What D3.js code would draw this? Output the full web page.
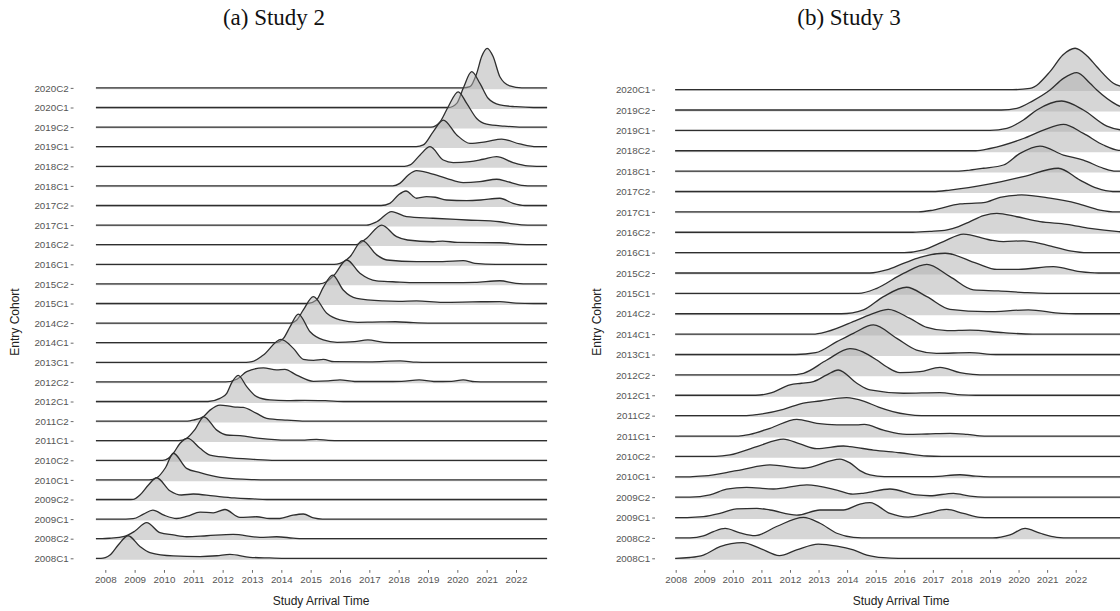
<!DOCTYPE html>
<html>
<head>
<meta charset="utf-8">
<script src="https://cdn.jsdelivr.net/npm/d3@7/dist/d3.min.js"></script>
<style>
body{margin:0;background:#fff;}
svg{display:block;}
</style>
</head>
<body>
<div id="chart"></div>
<script>
// tick labels of the arrival-time axis
var yearTicks = [2008, 2009, 2010, 2011, 2012, 2013, 2014, 2015, 2016, 2017, 2018, 2019, 2020, 2021, 2022];

// Study 2 : cohorts from bottom to top
var study2Cohorts = ["2008C1","2008C2","2009C1","2009C2","2010C1","2010C2","2011C1","2011C2",
	"2012C1","2012C2","2013C1","2014C1","2014C2","2015C1","2015C2","2016C1","2016C2",
	"2017C1","2017C2","2018C1","2018C2","2019C1","2019C2","2020C1","2020C2"];
// ridge outlines: [year, scaled density] (1 = one row)
var study2Ridges = [
	[[2007.85,0],[2008.0,0.04],[2008.16,0.17],[2008.44,0.68],[2008.78,1.15],[2009.18,0.6],[2009.52,0.29],[2010.32,0.12],[2011.23,0.09],[2011.8,0.13],[2012.25,0.2],[2012.93,0.05],[2013.6,0.02],[2014.2,0]],
	[[2007.9,0],[2008.2,0.03],[2008.61,0.1],[2009.0,0.38],[2009.41,0.82],[2009.86,0.31],[2010.32,0.19],[2010.77,0.1],[2011.46,0.15],[2012.36,0.22],[2013.27,0.07],[2013.84,0.1],[2014.4,0.03],[2014.7,0]],
	[[2008.7,0],[2008.95,0.02],[2009.3,0.25],[2009.62,0.46],[2010.0,0.2],[2010.43,0.03],[2010.8,0.15],[2011.23,0.36],[2011.68,0.32],[2012.08,0.49],[2012.59,0.09],[2013.16,0.12],[2013.6,0.03],[2013.95,0.03],[2014.4,0.2],[2014.75,0.26],[2015.1,0.06],[2015.4,0]],
	[[2008.8,0],[2008.95,0.01],[2009.18,0.23],[2009.47,0.74],[2009.75,1.11],[2010.2,0.45],[2010.6,0.23],[2011.0,0.28],[2011.68,0.18],[2012.4,0.08],[2013.04,0.03],[2013.5,0]],
	[[2009.5,0],[2009.75,0.1],[2010.05,0.62],[2010.32,1.36],[2010.77,0.59],[2011.23,0.37],[2011.91,0.13],[2012.82,0.03],[2013.5,0]],
	[[2009.95,0],[2010.15,0.1],[2010.32,0.36],[2010.55,0.87],[2010.81,1.12],[2011.23,0.61],[2011.57,0.27],[2012.14,0.15],[2013.04,0.05],[2013.8,0]],
	[[2010.5,0],[2010.77,0.12],[2011.06,0.58],[2011.36,1.22],[2011.8,0.54],[2012.14,0.29],[2012.59,0.26],[2013.27,0.12],[2014.18,0.03],[2014.8,0.03],[2015.2,0.07],[2015.6,0.02],[2016.0,0]],
	[[2010.8,0],[2011.0,0.05],[2011.36,0.25],[2011.57,0.56],[2011.91,0.82],[2012.36,0.73],[2012.7,0.7],[2013.16,0.39],[2013.5,0.14],[2014.2,0.05],[2014.8,0]],
	[[2011.5,0],[2011.91,0.16],[2012.14,0.42],[2012.31,0.96],[2012.53,1.33],[2012.82,0.76],[2013.16,0.25],[2013.61,0.08],[2014.2,0.04],[2014.8,0.06],[2015.5,0.04],[2016.2,0]],
	[[2012.1,0],[2012.5,0.15],[2012.82,0.52],[2013.39,0.72],[2013.84,0.61],[2014.12,0.64],[2014.52,0.35],[2015.09,0.03],[2015.6,0.05],[2016.0,0.1],[2016.5,0.02],[2017.5,0.02],[2018.1,0.03],[2018.7,0.1],[2019.2,0.02],[2019.8,0.03],[2020.2,0.1],[2020.6,0.01],[2021.0,0]],
	[[2012.8,0],[2013.0,0.03],[2013.39,0.37],[2013.99,1.17],[2014.41,0.71],[2014.75,0.15],[2015.1,0.1],[2015.43,0.15],[2015.8,0.03],[2017.0,0.02],[2018.05,0.07],[2018.6,0.01],[2019.0,0]],
	[[2013.8,0],[2014.07,0.22],[2014.3,0.82],[2014.58,1.46],[2014.98,0.56],[2015.43,0.14],[2015.9,0.02],[2016.5,0.06],[2016.95,0.14],[2017.5,0.02],[2018.0,0]],
	[[2014.3,0],[2014.52,0.15],[2014.75,0.67],[2015.09,1.35],[2015.55,0.5],[2016.0,0.16],[2016.6,0.04],[2017.1,0.05],[2017.9,0.07],[2018.5,0.02],[2019.0,0]],
	[[2014.9,0],[2015.2,0.18],[2015.43,0.82],[2015.75,1.45],[2016.11,0.69],[2016.57,0.26],[2017.48,0.13],[2018.0,0.11],[2018.61,0.13],[2019.5,0.06],[2020.5,0.08],[2021.45,0.1],[2022.0,0.02],[2022.6,0]],
	[[2015.3,0],[2015.55,0.12],[2015.8,0.45],[2016.23,1.22],[2016.68,0.54],[2017.25,0.15],[2017.8,0.11],[2018.6,0.06],[2019.8,0.06],[2020.6,0.08],[2021.45,0.16],[2022.0,0.03],[2022.5,0]],
	[[2015.8,0],[2016.0,0.05],[2016.34,0.39],[2016.76,1.21],[2017.25,0.48],[2017.6,0.22],[2018.61,0.14],[2019.5,0.14],[2020.2,0.19],[2020.6,0.05],[2021.3,0]],
	[[2016.55,0],[2016.9,0.32],[2017.42,1.0],[2017.93,0.41],[2018.3,0.24],[2019.17,0.15],[2019.5,0.18],[2020.0,0.12],[2021.45,0.1],[2022.1,0.02],[2022.6,0]],
	[[2016.9,0],[2017.25,0.17],[2017.76,0.69],[2018.27,0.43],[2019.17,0.35],[2020.32,0.26],[2021.45,0.17],[2021.9,0.06],[2022.4,0]],
	[[2017.4,0],[2017.7,0.11],[2017.99,0.54],[2018.25,0.74],[2018.61,0.37],[2018.95,0.45],[2019.25,0.42],[2019.63,0.28],[2020.32,0.25],[2020.8,0.28],[2021.45,0.37],[2021.9,0.11],[2022.3,0]],
	[[2017.8,0],[2018.04,0.13],[2018.33,0.56],[2018.61,0.78],[2019.07,0.64],[2019.63,0.39],[2020.2,0.17],[2020.77,0.22],[2021.34,0.34],[2021.7,0.22],[2022.2,0.03],[2022.6,0]],
	[[2018.2,0],[2018.39,0.07],[2018.73,0.58],[2019.07,1.0],[2019.52,0.32],[2019.86,0.19],[2020.43,0.24],[2020.88,0.36],[2021.34,0.49],[2021.9,0.19],[2022.4,0.02],[2022.7,0]],
	[[2018.6,0],[2018.84,0.09],[2019.18,0.77],[2019.52,1.36],[2019.98,0.6],[2020.43,0.17],[2021.0,0.26],[2021.51,0.39],[2022.13,0.14],[2022.7,0]],
	[[2019.1,0],[2019.41,0.27],[2019.69,1.04],[2020.03,1.8],[2020.32,1.21],[2020.66,0.44],[2021.0,0.15],[2021.6,0.05],[2022.2,0]],
	[[2019.7,0],[2019.98,0.21],[2020.2,0.98],[2020.49,1.83],[2020.77,1.23],[2021.05,0.47],[2021.45,0.13],[2022.0,0.04],[2022.6,0]],
	[[2020.2,0],[2020.43,0.06],[2020.66,0.74],[2020.83,1.6],[2021.02,2.02],[2021.22,1.6],[2021.45,0.57],[2021.79,0.1],[2022.2,0]]
];

// Study 3 : cohorts from bottom to top
var study3Cohorts = ["2008C1","2008C2","2009C1","2009C2","2010C1","2010C2","2011C1","2011C2",
	"2012C1","2012C2","2013C1","2014C1","2014C2","2015C1","2015C2","2016C1","2016C2",
	"2017C1","2017C2","2018C1","2018C2","2019C1","2019C2","2020C1"];
var study3Ridges = [
	[[2008.0,0],[2008.5,0.04],[2008.97,0.16],[2009.55,0.57],[2010.34,0.77],[2010.95,0.49],[2011.63,0.13],[2012.23,0.41],[2012.99,0.7],[2013.64,0.6],[2014.22,0.41],[2014.69,0.16],[2015.27,0.03],[2015.8,0]],
	[[2008.5,0],[2008.97,0.1],[2009.32,0.31],[2009.73,0.47],[2010.25,0.25],[2010.78,0.11],[2011.53,0.56],[2012.47,1.01],[2013.05,0.72],[2013.64,0.23],[2014.22,0.03],[2014.8,0],[2019.1,0],[2019.7,0.15],[2020.23,0.47],[2020.75,0.23],[2021.34,0.03],[2021.8,0]],
	[[2008.4,0],[2008.97,0.04],[2009.55,0.2],[2010.13,0.43],[2010.84,0.45],[2011.3,0.37],[2012.24,0.12],[2013.05,0.37],[2013.87,0.37],[2014.45,0.66],[2014.8,0.73],[2015.5,0.2],[2016.14,0.02],[2016.79,0.2],[2017.48,0.4],[2018.07,0.2],[2018.65,0.01],[2019.0,0]],
	[[2008.5,0],[2009.2,0.11],[2009.78,0.39],[2010.48,0.48],[2011.42,0.4],[2012.59,0.6],[2013.64,0.35],[2014.2,0.15],[2014.6,0.2],[2015.5,0.4],[2016.43,0.11],[2016.9,0.07],[2017.72,0.19],[2018.3,0.05],[2018.8,0]],
	[[2008.5,0],[2009.0,0.04],[2010.13,0.3],[2011.3,0.58],[2012.47,0.42],[2013.75,0.87],[2014.1,0.68],[2014.45,0.3],[2014.8,0.09],[2015.3,0.01],[2017.0,0.01],[2017.95,0.1],[2018.5,0.03],[2019.0,0]],
	[[2009.4,0],[2009.9,0.07],[2010.84,0.48],[2011.77,0.85],[2012.35,0.61],[2012.94,0.38],[2013.87,0.51],[2014.1,0.48],[2014.92,0.31],[2015.85,0.18],[2016.79,0.02],[2017.3,0]],
	[[2010.2,0],[2010.6,0.08],[2011.3,0.38],[2012.24,0.82],[2012.94,0.62],[2013.64,0.55],[2014.34,0.55],[2014.6,0.57],[2015.27,0.29],[2016.08,0.08],[2016.8,0.1],[2017.6,0.13],[2018.2,0.08],[2018.8,0]],
	[[2010.4,0],[2010.84,0.05],[2011.77,0.31],[2012.47,0.62],[2013.05,0.72],[2013.98,0.88],[2014.6,0.7],[2015.1,0.42],[2015.6,0.2],[2016.1,0.06],[2016.6,0]],
	[[2010.8,0],[2011.3,0.1],[2012.0,0.51],[2012.4,0.59],[2012.82,0.67],[2013.29,1.0],[2013.69,1.24],[2014.34,0.59],[2014.8,0.26],[2015.97,0.1],[2017.25,0.13],[2018.0,0.02],[2018.5,0]],
	[[2012.0,0],[2012.47,0.08],[2013.29,0.73],[2014.1,1.29],[2015.04,0.73],[2015.38,0.4],[2015.85,0.11],[2016.55,0.16],[2017.25,0.37],[2017.95,0.11],[2018.4,0.03],[2018.9,0]],
	[[2012.2,0],[2012.9,0.09],[2013.64,0.63],[2014.22,1.04],[2014.92,1.45],[2015.74,0.79],[2016.43,0.22],[2017.13,0.06],[2018.3,0.09],[2019.2,0]],
	[[2012.8,0],[2013.29,0.12],[2014.34,0.69],[2014.92,1.02],[2015.44,1.22],[2016.2,0.77],[2016.79,0.33],[2017.5,0.17],[2018.3,0.2],[2019.47,0.07],[2020.5,0]],
	[[2013.8,0],[2014.57,0.19],[2015.27,0.84],[2016.08,1.3],[2016.79,0.84],[2017.6,0.22],[2018.88,0.1],[2020.34,0.19],[2021.5,0.02],[2022.0,0]],
	[[2014.4,0],[2015.04,0.25],[2015.97,0.98],[2016.79,1.42],[2017.6,0.82],[2018.42,0.17],[2019.3,0.12],[2020.2,0.04],[2021.0,0]],
	[[2014.8,0],[2015.38,0.15],[2015.97,0.47],[2016.55,0.77],[2017.43,0.97],[2018.54,0.47],[2019.24,0.18],[2020.0,0.18],[2021.22,0.31],[2022.15,0.07],[2022.8,0]],
	[[2016.0,0],[2016.67,0.13],[2017.37,0.54],[2018.07,0.91],[2019.0,0.62],[2019.47,0.54],[2020.17,0.58],[2020.99,0.37],[2021.8,0.09],[2022.4,0]],
	[[2016.3,0],[2016.9,0.04],[2017.5,0.12],[2017.9,0.28],[2018.3,0.52],[2018.77,0.81],[2019.24,0.93],[2019.94,0.76],[2020.75,0.52],[2021.69,0.39],[2022.5,0.19],[2023.5,0.03]],
	[[2016.5,0],[2017.02,0.09],[2017.95,0.39],[2018.77,0.45],[2019.35,0.71],[2020.11,0.83],[2021.1,0.67],[2022.04,0.42],[2022.85,0.09],[2023.4,0]],
	[[2017.0,0],[2017.6,0.07],[2019.0,0.37],[2020.17,0.73],[2021.39,1.14],[2022.15,0.56],[2022.74,0.16],[2023.3,0]],
	[[2017.9,0],[2018.3,0.05],[2018.77,0.14],[2019.47,0.3],[2020.05,0.87],[2020.75,1.23],[2021.57,0.79],[2022.27,0.54],[2022.97,0.14],[2023.4,0]],
	[[2018.5,0],[2019.0,0.11],[2020.17,0.6],[2020.87,1.01],[2021.57,1.29],[2022.27,0.85],[2022.97,0.28],[2023.5,0.02]],
	[[2019.0,0],[2019.59,0.1],[2020.17,0.51],[2020.64,1.0],[2021.51,1.44],[2022.27,1.0],[2023.09,0.21],[2023.6,0.02]],
	[[2019.4,0],[2019.94,0.08],[2020.5,0.45],[2021.1,0.98],[2021.57,1.55],[2022.04,1.83],[2022.5,1.31],[2022.74,0.98],[2023.44,0.25],[2023.75,0.05]],
	[[2019.8,0],[2020.4,0.06],[2021.1,0.88],[2021.55,1.7],[2021.98,2.03],[2022.4,1.65],[2022.74,1.12],[2023.32,0.31],[2023.75,0.05]]
];

var W = 1120, H = 611;
var fontSans = "'Liberation Sans', Arial, Helvetica, sans-serif";

var svg = d3.select("#chart").append("svg")
	.attr("width", W)
	.attr("height", H);

// panel geometry
var panels = [
	{title: "(a) Study 2", titleX: 274, cohorts: study2Cohorts, ridges: study2Ridges,
	 tickPx: [105.3, 516], span: [2007.68, 2023.06], bottom: 558.3, top: 87.9,
	 axisX: 73.5, axisY: 570, yTitleX: 18.5, xTitleX: 321},
	{title: "(b) Study 3", titleX: 849, cohorts: study3Cohorts, ridges: study3Ridges,
	 tickPx: [675.7, 1075.7], span: [2007.98, 2023.8], bottom: 558.3, top: 89.6,
	 axisX: 655, axisY: 570, yTitleX: 600.5, xTitleX: 901}
];

panels.forEach(function(p){ drawPanel(p); });

function drawPanel(p){
	var g = svg.append("g");

	var x = d3.scaleLinear()
		.domain([yearTicks[0], yearTicks[yearTicks.length-1]])
		.range(p.tickPx);
	var y = d3.scalePoint()
		.domain(p.cohorts)
		.range([p.bottom, p.top]);
	var step = y.step();
	var h = d3.scaleLinear().domain([0, 1]).range([0, step]);

	// ridges, top row first so lower rows sit on top
	for(var i=p.cohorts.length-1; i>=0; i--){
		var base = y(p.cohorts[i]);
		var pts = p.ridges[i].slice();
		if(pts[0][0] > p.span[0]) pts.unshift([p.span[0], 0]);
		if(pts[pts.length-1][0] < p.span[1]) pts.push([p.span[1], 0]);

		var area = d3.area()
			.curve(d3.curveMonotoneX)
			.x(function(d){ return x(d[0]); })
			.y0(base + 1.4)
			.y1(function(d){ return base - h(d[1]); });
		var line = d3.line()
			.curve(d3.curveMonotoneX)
			.x(function(d){ return x(d[0]); })
			.y(function(d){ return base - h(d[1]); });

		g.append("path")
			.datum(pts)
			.attr("d", area)
			.attr("fill", "#adadad")
			.attr("fill-opacity", 0.5);
		g.append("path")
			.datum(pts)
			.attr("d", line)
			.attr("fill", "none")
			.attr("stroke", "#2e2e2e")
			.attr("stroke-width", 1.3);
	}

	// y axis
	var yAxis = g.append("g")
		.attr("transform", "translate(" + p.axisX + ",0)")
		.call(d3.axisLeft(y).tickSize(2.8).tickPadding(2));
	yAxis.select(".domain").remove();
	yAxis.selectAll("line").attr("stroke", "#444").attr("stroke-width", 0.8);
	yAxis.selectAll("text")
		.attr("fill", "#555")
		.style("font-family", fontSans)
		.style("font-size", "9.8px");

	// x axis
	var xAxis = g.append("g")
		.attr("transform", "translate(0," + p.axisY + ")")
		.call(d3.axisBottom(x).tickValues(yearTicks).tickFormat(d3.format("d")).tickSize(2.8).tickPadding(3.2));
	xAxis.select(".domain").remove();
	xAxis.selectAll("line").attr("stroke", "#444").attr("stroke-width", 0.8);
	xAxis.selectAll("text")
		.attr("fill", "#555")
		.style("font-family", fontSans)
		.style("font-size", "9.8px");

	// axis titles
	g.append("text")
		.text("Study Arrival Time")
		.attr("x", p.xTitleX)
		.attr("y", 605)
		.attr("text-anchor", "middle")
		.attr("fill", "#222")
		.style("font-family", fontSans)
		.style("font-size", "12px");
	g.append("text")
		.text("Entry Cohort")
		.attr("transform", "translate(" + p.yTitleX + ",322) rotate(-90)")
		.attr("text-anchor", "middle")
		.attr("fill", "#222")
		.style("font-family", fontSans)
		.style("font-size", "12px");

	// sub-figure caption
	g.append("text")
		.text(p.title)
		.attr("x", p.titleX)
		.attr("y", 24.5)
		.attr("text-anchor", "middle")
		.attr("fill", "#111")
		.style("font-family", "'Liberation Serif', 'Times New Roman', serif")
		.style("font-size", "23px");
}
</script>
</body>
</html>
